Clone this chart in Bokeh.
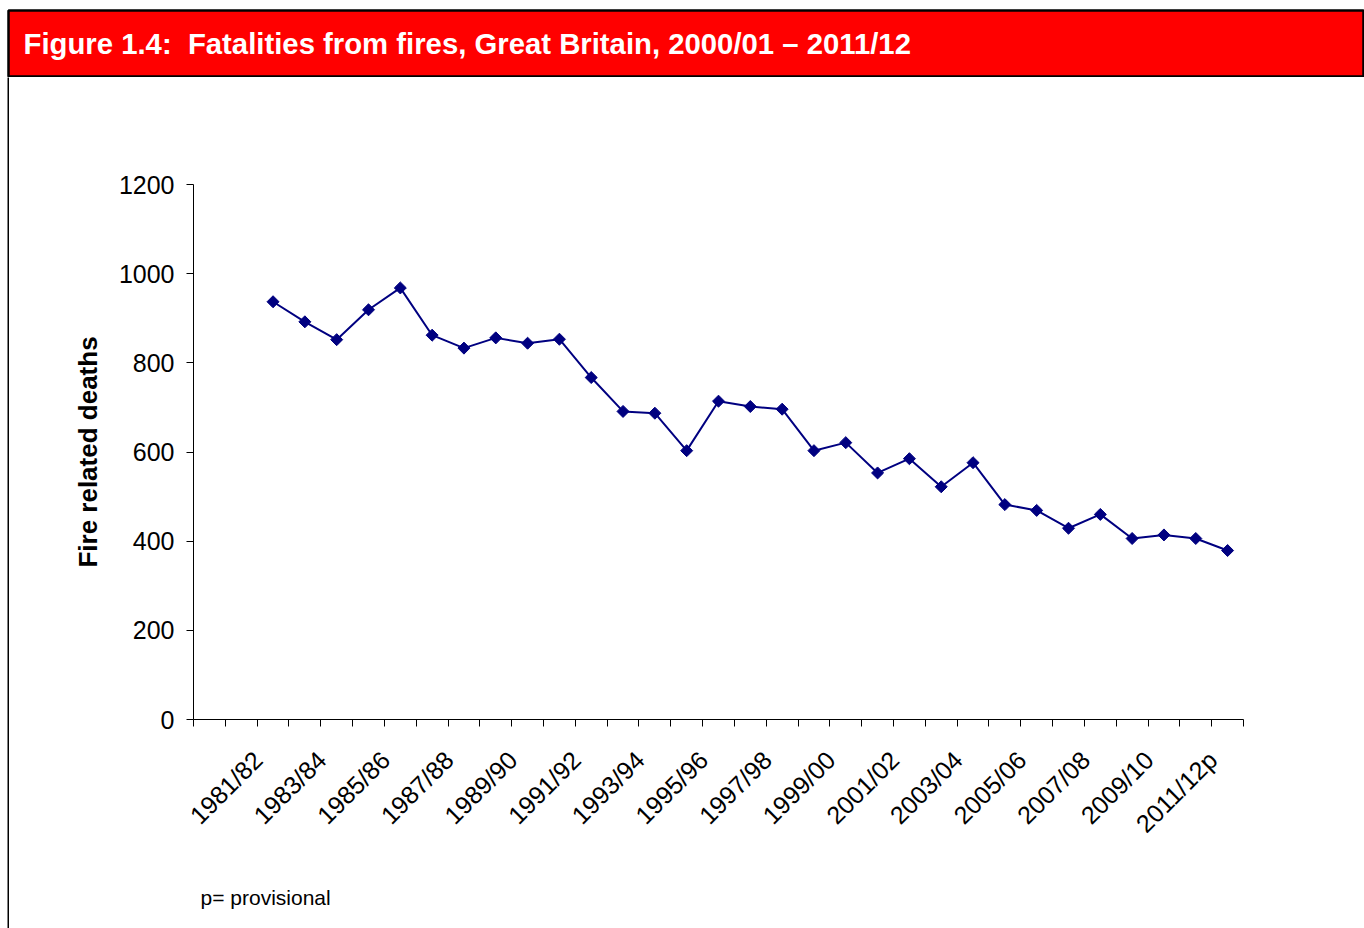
import math
from bokeh.plotting import figure
from bokeh.layouts import column, row
from bokeh.models import Range1d, FixedTicker, Label
from bokeh.embed import file_html
from bokeh.resources import INLINE

# ---- data ----
categories = ["", "",
              "1981/82", "1982/83", "1983/84", "1984/85", "1985/86", "1986/87",
              "1987/88", "1988/89", "1989/90", "1990/91", "1991/92", "1992/93",
              "1993/94", "1994/95", "1995/96", "1996/97", "1997/98", "1998/99",
              "1999/00", "2000/01", "2001/02", "2002/03", "2003/04", "2004/05",
              "2005/06", "2006/07", "2007/08", "2008/09", "2009/10", "2010/11",
              "2011/12p"]
seasons = categories[2:]
deaths = [937, 892, 852, 919, 968, 862, 833, 856, 844, 853,
          767, 691, 687, 603, 714, 702, 696, 603, 621, 553,
          585, 522, 576, 482, 469, 429, 460, 406, 414, 406, 379]
labelled = ["1981/82", "1983/84", "1985/86", "1987/88", "1989/90", "1991/92",
            "1993/94", "1995/96", "1997/98", "1999/00", "2001/02", "2003/04",
            "2005/06", "2007/08", "2009/10", "2011/12p"]
y_ticks = [0, 200, 400, 600, 800, 1000, 1200]

title_text = "Figure 1.4:\u00a0 Fatalities from fires, Great Britain, 2000/01 \u2013 2011/12"
y_title = "Fire related deaths"
note_text = "p= provisional"

FONT = "Liberation Sans"
NAVY = "#000080"
RED = "#FF0000"
LABEL_SHIFT = 0.47   # Excel-style label anchoring (fraction of a category)

n = len(categories)
xs = [categories.index(s) for s in seasons]


def blank(width, height, **kw):
    f = figure(width=width, height=height, title=None,
               x_axis_type=None, y_axis_type=None,
               output_backend="svg", toolbar_location=None, **kw)
    f.xgrid.visible = False
    f.ygrid.visible = False
    f.border_fill_color = "white"
    return f


# ---- red header band ----
head = blank(1364, 77, x_range=Range1d(0, 1356), y_range=Range1d(0, 67),
             min_border_left=8, min_border_right=0,
             min_border_top=10, min_border_bottom=0)
head.background_fill_color = RED
head.outline_line_color = "black"
head.outline_line_width = 2.5
head.add_layout(Label(x=15, y=34, text=title_text, text_color="white",
                      text_font=FONT, text_font_style="bold",
                      text_font_size="29.3px", text_baseline="middle",
                      text_align="left"))

# ---- left border strip ----
strip = blank(9, 851, x_range=Range1d(0, 1), y_range=Range1d(0, 1),
              min_border_left=7, min_border_right=0,
              min_border_top=0, min_border_bottom=0)
strip.background_fill_color = "black"
strip.outline_line_color = None

# ---- main chart ----
p = figure(width=1355, height=773, title=None,
           x_range=Range1d(-0.5, n - 0.5), y_range=Range1d(0, 1200),
           output_backend="svg", toolbar_location=None,
           min_border_left=184, min_border_right=121,
           min_border_top=107, min_border_bottom=128)
p.background_fill_color = "white"
p.border_fill_color = "white"
p.outline_line_color = None
p.xgrid.visible = False
p.ygrid.visible = False

xa = p.xaxis[0]
label_pos = [categories.index(s) - LABEL_SHIFT for s in labelled]
xa.ticker = FixedTicker(ticks=label_pos,
                        minor_ticks=[i - 0.5 for i in range(n + 1)])
xa.major_label_overrides = {pos: s for pos, s in zip(label_pos, labelled)}
xa.major_tick_line_color = None
xa.major_tick_out = 0
xa.major_tick_in = 0
xa.minor_tick_out = 7
xa.minor_tick_in = 0
xa.minor_tick_line_color = "black"
xa.axis_line_color = "black"
xa.major_label_orientation = math.pi / 4
xa.major_label_text_font = FONT
xa.major_label_text_font_size = "25px"
xa.major_label_text_color = "black"
xa.major_label_standoff = 29

ya = p.yaxis[0]
ya.ticker = FixedTicker(ticks=y_ticks)
ya.major_tick_out = 7
ya.major_tick_in = 0
ya.minor_tick_out = 0
ya.minor_tick_in = 0
ya.major_tick_line_color = "black"
ya.axis_line_color = "black"
ya.major_label_text_font = FONT
ya.major_label_text_font_size = "25px"
ya.major_label_text_color = "black"
ya.major_label_standoff = 12
ya.axis_label = y_title
ya.axis_label_text_font = FONT
ya.axis_label_text_font_size = "26px"
ya.axis_label_text_font_style = "bold"
ya.axis_label_text_color = "black"
ya.axis_label_standoff = 13

p.line(xs, deaths, line_color=NAVY, line_width=2)
p.scatter(xs, deaths, marker="square", size=8.5, angle=math.pi / 4,
          fill_color=NAVY, line_color=NAVY, line_width=1)

# ---- footnote (frame aligned with the chart frame) ----
foot = blank(1355, 78, x_range=Range1d(0, 1050), y_range=Range1d(0, 78),
             min_border_left=184, min_border_right=121,
             min_border_top=0, min_border_bottom=0)
foot.background_fill_color = "white"
foot.outline_line_color = None
foot.add_layout(Label(x=7, y=31, text=note_text, text_color="black",
                      text_font=FONT, text_font_size="21px",
                      text_baseline="middle", text_align="left"))

page = column(head, row(strip, column(p, foot, spacing=0), spacing=0), spacing=0)

open("out.html", "w").write(file_html(page, INLINE))
